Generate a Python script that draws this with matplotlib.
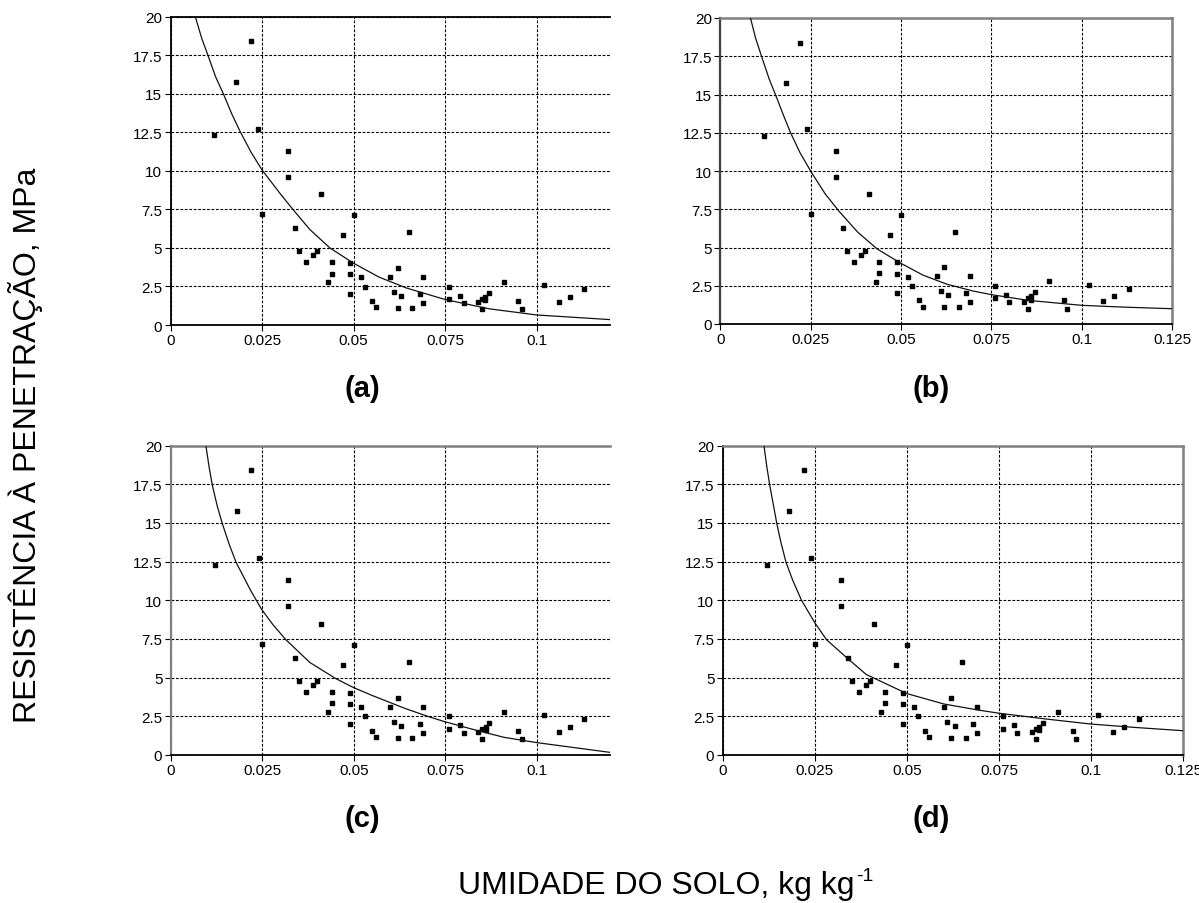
import matplotlib
matplotlib.use('Agg')
from matplotlib import pyplot as plt

plt.rcParams['font.family'] = ['Liberation Sans', 'DejaVu Sans']

# observed points (same in every panel)
moisture = [0.012, 0.018, 0.022, 0.024, 0.025, 0.032, 0.032, 0.041, 0.034,
            0.035, 0.037, 0.039, 0.040, 0.043, 0.044, 0.044, 0.047, 0.049,
            0.049, 0.049, 0.050, 0.052, 0.053, 0.055, 0.056, 0.060, 0.061,
            0.062, 0.062, 0.063, 0.065, 0.066, 0.068, 0.069, 0.069, 0.076,
            0.076, 0.079, 0.080, 0.084, 0.085, 0.085, 0.086, 0.086, 0.087,
            0.091, 0.095, 0.096, 0.102, 0.106, 0.109, 0.113]
resistance = [12.30, 15.74, 18.39, 12.73, 7.20, 11.31, 9.61, 8.49, 6.28,
              4.77, 4.06, 4.52, 4.77, 2.77, 4.06, 3.33, 5.81, 4.02,
              3.29, 2.00, 7.10, 3.08, 2.49, 1.55, 1.14, 3.12, 2.13,
              3.70, 1.10, 1.87, 6.02, 1.10, 2.00, 3.12, 1.42, 2.49,
              1.68, 1.91, 1.42, 1.46, 1.01, 1.68, 1.83, 1.59, 2.09,
              2.80, 1.55, 1.01, 2.58, 1.51, 1.83, 2.32]

# fitted curves
curve_a_x = [0.0069, 0.0085, 0.0102, 0.0123, 0.0145, 0.0167, 0.019, 0.022,
             0.025, 0.030, 0.0334, 0.038, 0.0435, 0.050, 0.057, 0.0644,
             0.075, 0.087, 0.100, 0.120]
curve_a_y = [19.9, 18.6, 17.5, 16.1, 14.95, 13.7, 12.55, 11.2,
             10.05, 8.5, 7.5, 6.2, 5.0, 4.0, 3.1, 2.4,
             1.65, 1.05, 0.65, 0.35]

curve_b_x = [0.0083, 0.0097, 0.01135, 0.0135, 0.0157, 0.0175, 0.0194, 0.022,
             0.0252, 0.029, 0.0327, 0.038, 0.0434, 0.050, 0.056, 0.0627,
             0.070, 0.075, 0.085, 0.100, 0.112, 0.125]
curve_b_y = [20.0, 18.7, 17.5, 16.0, 14.7, 13.6, 12.5, 11.2,
             9.9, 8.5, 7.4, 6.0, 4.9, 3.96, 3.2, 2.6,
             2.15, 1.92, 1.55, 1.22, 1.1, 1.0]

curve_c_x = [0.0096, 0.0105, 0.0114, 0.0127, 0.0141, 0.016, 0.0179, 0.0218,
             0.0248, 0.028, 0.0315, 0.038, 0.045, 0.050, 0.055, 0.064,
             0.0703, 0.0749, 0.0839, 0.0911, 0.100, 0.120]
curve_c_y = [20.0, 18.6, 17.4, 16.1, 14.95, 13.6, 12.43, 10.65,
             9.42, 8.4, 7.44, 5.98, 4.95, 4.35, 3.85, 3.01,
             2.49, 2.15, 1.57, 1.14, 0.8, 0.17]

curve_d_x = [0.0112, 0.012, 0.0128, 0.0147, 0.0158, 0.0172, 0.019, 0.0214,
             0.025, 0.0282, 0.0341, 0.039, 0.050, 0.060, 0.069, 0.075,
             0.088, 0.100, 0.112, 0.125]
curve_d_y = [20.0, 18.6, 17.4, 14.95, 13.75, 12.45, 11.3, 10.0,
             8.55, 7.45, 6.2, 5.2, 3.97, 3.3, 2.92, 2.7,
             2.32, 2.0, 1.78, 1.57]

y_ticks = [0, 2.5, 5, 7.5, 10, 12.5, 15, 17.5, 20]
y_labels = ['0', '2.5', '5', '7.5', '10', '12.5', '15', '17.5', '20']
x_ticks_short = [0, 0.025, 0.05, 0.075, 0.1]
x_labels_short = ['0', '0.025', '0.05', '0.075', '0.1']
x_ticks_long = [0, 0.025, 0.05, 0.075, 0.1, 0.125]
x_labels_long = ['0', '0.025', '0.05', '0.075', '0.1', '0.125']

panel_names = ['(a)', '(b)', '(c)', '(d)']

W, H = 1199, 904
GRAY = '#808080'

# (left, right, top, bottom) in pixels, xmax, spine styles, title position
panels = [
    dict(box=(170.5, 610, 17.5, 326), xmax=0.12, curve=(curve_a_x, curve_a_y),
         ticks=(x_ticks_short, x_labels_short), top='k', left='k', right=None,
         title=(362, 389)),
    dict(box=(720.5, 1172, 19, 325), xmax=0.125, curve=(curve_b_x, curve_b_y),
         ticks=(x_ticks_long, x_labels_long), top=GRAY, left='#404040', right=GRAY,
         title=(931, 389)),
    dict(box=(170.7, 610, 446.5, 756), xmax=0.12, curve=(curve_c_x, curve_c_y),
         ticks=(x_ticks_short, x_labels_short), top=GRAY, left=GRAY, right=None,
         title=(362, 819)),
    dict(box=(722.7, 1183, 446.5, 756), xmax=0.125, curve=(curve_d_x, curve_d_y),
         ticks=(x_ticks_long, x_labels_long), top=GRAY, left='k', right=GRAY,
         title=(931, 819)),
]

fig = plt.figure(figsize=(W / 100, H / 100), dpi=100)

for name, p in zip(panel_names, panels):
    l, r, t, b = p['box']
    ax = fig.add_axes([l / W, 1 - b / H, (r - l) / W, (b - t) / H])
    ax.set_xlim(0, p['xmax'])
    ax.set_ylim(0, 20)
    ax.set_axisbelow(True)
    ax.grid(True, color='k', linestyle=(0, (2.5, 1.5)), linewidth=0.8)

    ax.plot(moisture, resistance, linestyle='none', marker='s',
            markersize=2.7, color='k', zorder=3)
    cx, cy = p['curve']
    ax.plot(cx, cy, color='#111111', linewidth=0.9, zorder=3)

    xt, xl = p['ticks']
    ax.set_xticks(xt)
    ax.set_xticklabels(xl)
    ax.set_yticks(y_ticks)
    ax.set_yticklabels(y_labels)
    ax.tick_params(direction='out', length=4, width=0.8, labelsize=11,
                   pad=2, colors='k')

    ax.spines['bottom'].set_color('k')
    ax.spines['bottom'].set_linewidth(1.3)
    ax.spines['top'].set_color(p['top'])
    ax.spines['top'].set_linewidth(1.8 if p['top'] == GRAY else 1.3)
    ax.spines['left'].set_color(p['left'])
    ax.spines['left'].set_linewidth(1.6 if p['left'] != 'k' else 1.3)
    if p['right'] is None:
        ax.spines['right'].set_visible(False)
    else:
        ax.spines['right'].set_color(p['right'])
        ax.spines['right'].set_linewidth(1.8)

    tx, ty = p['title']
    fig.text(tx / W, 1 - ty / H, name, ha='center', va='center',
             fontsize=21, fontweight='bold')

fig.text(26 / W, 1 - 445 / H, 'RESISTÊNCIA À PENETRAÇÃO, MPa', rotation=90,
         ha='center', va='center', fontsize=23)
# x label with a small raised "-1"
fig.text(855 / W, 1 - 894 / H, 'UMIDADE DO SOLO, kg kg',
         ha='right', va='baseline', fontsize=23)
fig.text(856 / W, 1 - 881 / H, '-1', ha='left', va='baseline', fontsize=14)

fig.savefig('out.png', dpi=100)
